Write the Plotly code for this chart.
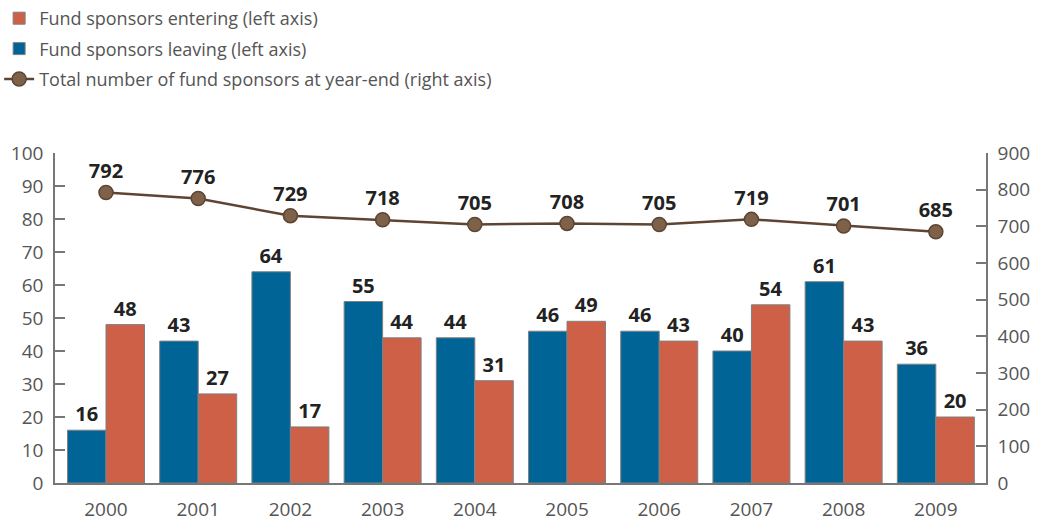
import plotly.graph_objects as go

years = ["2000", "2001", "2002", "2003", "2004", "2005", "2006", "2007", "2008", "2009"]
leaving = [16, 43, 64, 55, 44, 46, 46, 40, 61, 36]
entering = [48, 27, 17, 44, 31, 49, 43, 54, 43, 20]
total = [792, 776, 729, 718, 705, 708, 705, 719, 701, 685]

BLUE = "#006497"
ORANGE = "#cd6047"
BROWN = "#5e4432"
MARKER = "#7d6149"
FONT = "Open Sans"
LABEL_FONT = dict(family=FONT, size=20, color="#222222", weight="bold")
TICK_FONT = dict(family=FONT, size=19, color="#555555")

fig = go.Figure()

fig.add_trace(go.Bar(
    x=years, y=leaving, name="Fund sponsors leaving (left axis)",
    marker=dict(color=BLUE, line=dict(color="#808080", width=1)),
    text=leaving, textposition="outside", cliponaxis=False,
    textfont=LABEL_FONT, legendrank=2, legendgroup="b",
))
fig.add_trace(go.Bar(
    x=years, y=entering, name="Fund sponsors entering (left axis)",
    marker=dict(color=ORANGE, line=dict(color="#808080", width=1)),
    text=entering, textposition="outside", cliponaxis=False,
    textfont=LABEL_FONT, legendrank=1, legendgroup="a",
))
fig.add_trace(go.Scatter(
    x=years, y=total, yaxis="y2", mode="lines+markers+text",
    name="Total number of fund sponsors at year-end (right axis)",
    line=dict(color=BROWN, width=2.5),
    marker=dict(size=14, color=MARKER, line=dict(color=BROWN, width=1.5)),
    text=total, textposition="top center", cliponaxis=False,
    textfont=LABEL_FONT, legendrank=3, legendgroup="c",
))

fig.update_layout(
    width=1043, height=522,
    margin=dict(l=55, r=57, t=153, b=39, autoexpand=False),
    paper_bgcolor="white", plot_bgcolor="white",
    font=dict(family=FONT, color="#555555"),
    barmode="group", bargap=0.165, bargroupgap=0,
    showlegend=True,
    legend=dict(
        x=-0.06, y=1.0, yref="container", xanchor="left", yanchor="top",
        font=dict(family=FONT, size=18, color="#555555"),
        tracegroupgap=4, itemwidth=30, bgcolor="rgba(0,0,0,0)",
    ),
    xaxis=dict(
        range=[-0.553, 9.544], showline=True, linecolor="#777777", linewidth=1.5,
        ticks="", tickfont=TICK_FONT, ticklabelstandoff=8, automargin=False,
        showgrid=False, zeroline=False,
    ),
    yaxis=dict(
        range=[0, 100], dtick=10, showline=True, linecolor="#777777", linewidth=1.5,
        ticks="inside", ticklen=10, tickcolor="#777777", tickwidth=1.5,
        tickfont=TICK_FONT, automargin=False,
        showgrid=False, zeroline=False, ticklabelstandoff=6,
    ),
    yaxis2=dict(
        range=[0, 900], dtick=100, overlaying="y", side="right",
        showline=True, linecolor="#777777", linewidth=1.5,
        ticks="inside", ticklen=10, tickcolor="#777777", tickwidth=1.5,
        tickfont=TICK_FONT, automargin=False,
        showgrid=False, zeroline=False, ticklabelstandoff=6,
    ),
)

fig.write_html("out.html")
